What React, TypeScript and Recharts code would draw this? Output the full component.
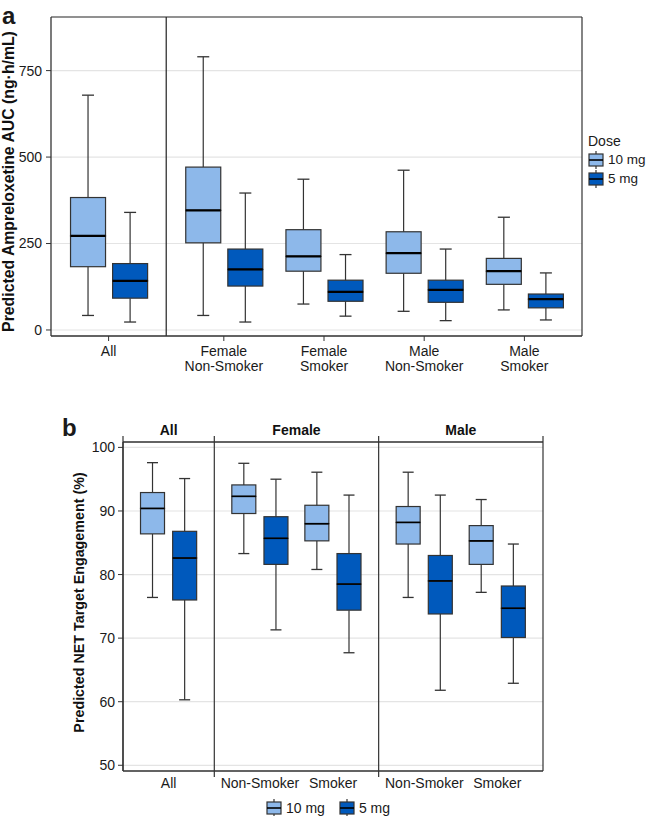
import React from 'react';
import {
  ComposedChart,
  Bar,
  XAxis,
  YAxis,
  CartesianGrid,
  ReferenceLine,
  Legend,
} from 'recharts';

const DOSES = ['10 mg', '5 mg'];
const DOSE_COLORS = ['#8db8ea', '#0059bc'];

// panel a: AUC, each entry is [min, q1, median, q3, max]
const A_CATEGORIES = ['All', 'Female\nNon-Smoker', 'Female\nSmoker', 'Male\nNon-Smoker', 'Male\nSmoker'];
const A_GROUPS = [0, 1, 1, 1, 1];
const A_TICKS = [0, 250, 500, 750];
const A_10MG = [
  [42, 183, 272, 383, 679],
  [42, 252, 346, 471, 790],
  [75, 170, 213, 290, 436],
  [54, 164, 222, 284, 462],
  [58, 132, 170, 207, 326],
];
const A_5MG = [
  [23, 92, 142, 192, 340],
  [23, 127, 175, 234, 396],
  [40, 83, 110, 144, 218],
  [27, 80, 116, 144, 234],
  [29, 64, 89, 104, 165],
];

// panel b: NET target engagement (%)
const B_CATEGORIES = ['All', 'Non-Smoker', 'Smoker', 'Non-Smoker', 'Smoker'];
const B_GROUPS = [0, 1, 1, 2, 2];
const B_GROUP_LABELS = ['All', 'Female', 'Male'];
const B_TICKS = [50, 60, 70, 80, 90, 100];
const B_10MG = [
  [76.4, 86.4, 90.4, 92.9, 97.6],
  [83.3, 89.6, 92.3, 94.1, 97.5],
  [80.8, 85.3, 88.0, 90.9, 96.1],
  [76.4, 84.8, 88.2, 90.7, 96.1],
  [77.2, 81.6, 85.3, 87.7, 91.8],
];
const B_5MG = [
  [60.3, 76.0, 82.6, 86.8, 95.1],
  [71.3, 81.6, 85.7, 89.1, 95.0],
  [67.7, 74.4, 78.5, 83.3, 92.5],
  [61.8, 73.8, 79.0, 83.0, 92.5],
  [62.9, 70.1, 74.7, 78.2, 84.8],
];

const INK = '#333';
const FONT = '"Liberation Sans", Arial, Helvetica, sans-serif';

// x layout: categories one unit apart, with an extra gap between facet groups
function layout(groups: number[], gap: number) {
  const pos = groups.map((g, i) => i + g * gap);
  const seps: number[] = [];
  for (let i = 1; i < pos.length; i++) {
    if (groups[i] !== groups[i - 1]) seps.push((pos[i - 1] + pos[i]) / 2);
  }
  const pad = 0.5 + gap / 2;
  const domain: [number, number] = [pos[0] - pad, pos[pos.length - 1] + pad];
  return { pos, seps, domain };
}

function buildRows(pos: number[], dodge: number, series: number[][][]) {
  const rows: any[] = [];
  series.forEach((stats, d) =>
    stats.forEach(([min, q1, med, q3, max], i) => {
      rows.push({
        x: pos[i] + (d === 0 ? -dodge : dodge),
        dose: d,
        base: min,
        lw: q1 - min,
        lb: med - q1,
        ub: q3 - med,
        uw: max - q3,
      });
    })
  );
  return rows;
}

const whisker = (top: boolean, cap: number) => (p: any) => {
  const cx = p.x + p.width / 2;
  const yCap = top ? p.y : p.y + p.height;
  return (
    <g>
      <line x1={cx} x2={cx} y1={p.y} y2={p.y + p.height} stroke={INK} strokeWidth={1.2} />
      <line x1={cx - cap / 2} x2={cx + cap / 2} y1={yCap} y2={yCap} stroke={INK} strokeWidth={1.3} />
    </g>
  );
};

const boxPart = (median: boolean, medW: number) => (p: any) => (
  <g>
    <rect
      x={p.x}
      y={p.y}
      width={p.width}
      height={p.height}
      fill={DOSE_COLORS[p.payload.dose]}
      stroke={INK}
      strokeWidth={1.2}
    />
    {median && (
      <line x1={p.x} x2={p.x + p.width} y1={p.y + p.height} y2={p.y + p.height} stroke="#000" strokeWidth={medW} />
    )}
  </g>
);

const catTick = (labels: string[]) => (p: any) => (
  <text x={p.x} y={p.y} textAnchor="middle" fontSize={14} fill="#1a1a1a">
    {labels[p.index].split('\n').map((l, k) => (
      <tspan key={k} x={p.x} dy={k === 0 ? '0.71em' : 15.5}>
        {l}
      </tspan>
    ))}
  </text>
);

// rotated y-axis title, shifted along the axis by `shift`
const yTitle = (text: string, size: number, offset: number, shift: number) => (p: any) => {
  const vb = p.viewBox;
  const cx = vb.x + offset;
  const cy = vb.y + vb.height / 2 + shift;
  return (
    <text
      transform={`translate(${cx}, ${cy}) rotate(-90)`}
      textAnchor="middle"
      dy="0.36em"
      fontSize={size}
      fontWeight={700}
      fill="#111"
    >
      {text}
    </text>
  );
};

const vline = (up: number, down: number) => (p: any) => {
  const top = Math.min(p.y1, p.y2);
  const bottom = Math.max(p.y1, p.y2);
  return <line x1={p.x1} x2={p.x2} y1={top - up} y2={bottom + down} stroke={INK} strokeWidth={1.2} />;
};

const Glyph = ({ color }: { color: string }) => (
  <svg width={16} height={18} style={{ display: 'block', flex: 'none' }}>
    <line x1={8} x2={8} y1={0} y2={18} stroke={INK} strokeWidth={1.2} />
    <rect x={1} y={3} width={14} height={12} fill={color} stroke={INK} strokeWidth={1.2} />
    <line x1={1} x2={15} y1={9} y2={9} stroke="#000" strokeWidth={1.6} />
  </svg>
);

const LegendRow = ({ i, size }: { i: number; size: number }) => (
  <div style={{ display: 'flex', alignItems: 'center', height: 19, whiteSpace: 'nowrap' }}>
    <Glyph color={DOSE_COLORS[i]} />
    <span style={{ marginLeft: 4, fontSize: size, color: '#1a1a1a' }}>{DOSES[i]}</span>
  </div>
);

const LegendA = () => (
  <div style={{ fontFamily: FONT, whiteSpace: 'nowrap' }}>
    <div style={{ fontSize: 14, lineHeight: '18px', color: '#1a1a1a' }}>Dose</div>
    {DOSES.map((_, i) => (
      <LegendRow key={i} i={i} size={13.5} />
    ))}
  </div>
);

const LegendB = () => (
  <div style={{ fontFamily: FONT, display: 'flex', gap: 14, whiteSpace: 'nowrap' }}>
    {DOSES.map((_, i) => (
      <LegendRow key={i} i={i} size={14} />
    ))}
  </div>
);

export default function App() {
  const la = layout(A_GROUPS, 0.15);
  const lb = layout(B_GROUPS, 0.25);
  const rowsA = buildRows(la.pos, 0.21, [A_10MG, A_5MG]);
  const rowsB = buildRows(lb.pos, 0.22, [B_10MG, B_5MG]);
  const groupCenters = B_GROUP_LABELS.map((_, g) => {
    const ps = lb.pos.filter((_, i) => B_GROUPS[i] === g);
    return (ps[0] + ps[ps.length - 1]) / 2;
  });
  const domA: [number, number] = [-17.4, 905];
  const domB: [number, number] = [49.1, 100.85];

  return (
    <div
      style={{
        position: 'absolute',
        left: 0,
        top: 0,
        width: 646,
        height: 816,
        background: '#fff',
        fontFamily: FONT,
        color: '#1a1a1a',
      }}
    >
      <div style={{ position: 'absolute', left: 2, top: 4, fontSize: 24, lineHeight: '24px', fontWeight: 700 }}>a</div>
      <div style={{ position: 'absolute', left: 62, top: 416, fontSize: 24, lineHeight: '24px', fontWeight: 700 }}>b</div>

      <div style={{ position: 'absolute', left: 0, top: 0 }}>
        <ComposedChart width={646} height={390} data={rowsA} margin={{ top: 17, right: 64, bottom: 14, left: 0 }}>
          <CartesianGrid vertical={false} stroke="#e4e4e4" strokeWidth={1.2} />
          <XAxis
            type="number"
            dataKey="x"
            domain={la.domain}
            allowDataOverflow
            ticks={la.pos}
            interval={0}
            height={40}
            tickSize={5}
            tickMargin={5}
            axisLine={{ stroke: INK, strokeWidth: 1.3 }}
            tickLine={{ stroke: INK }}
            tick={catTick(A_CATEGORIES)}
          />
          <YAxis
            type="number"
            domain={domA}
            allowDataOverflow
            ticks={A_TICKS}
            interval={0}
            width={51}
            tickSize={5}
            tickMargin={4}
            axisLine={{ stroke: INK, strokeWidth: 1.3 }}
            tickLine={{ stroke: INK }}
            tick={{ fontSize: 14, fill: '#1a1a1a' }}
            label={{ content: yTitle('Predicted Ampreloxetine AUC (ng·h/mL)', 15.8, 8, 5) }}
          />
          <ReferenceLine y={domA[1]} stroke={INK} strokeWidth={1.2} ifOverflow="visible" />
          <ReferenceLine x={la.domain[1]} stroke={INK} strokeWidth={1.2} ifOverflow="visible" />
          {la.seps.map((s) => (
            <ReferenceLine key={s} x={s} stroke="#222" strokeWidth={1.2} ifOverflow="visible" />
          ))}
          <Bar dataKey="base" stackId="box" barSize={35} fill="none" isAnimationActive={false} />
          <Bar dataKey="lw" stackId="box" barSize={35} shape={whisker(false, 12)} isAnimationActive={false} />
          <Bar dataKey="lb" stackId="box" barSize={35} shape={boxPart(false, 2)} isAnimationActive={false} />
          <Bar dataKey="ub" stackId="box" barSize={35} shape={boxPart(true, 2.2)} isAnimationActive={false} />
          <Bar dataKey="uw" stackId="box" barSize={35} shape={whisker(true, 12)} isAnimationActive={false} />
          <Legend
            layout="vertical"
            align="center"
            verticalAlign="middle"
            wrapperStyle={{ left: 588, top: 132, width: 58 }}
            content={() => <LegendA />}
          />
        </ComposedChart>
      </div>

      <div style={{ position: 'absolute', left: 0, top: 400 }}>
        <ComposedChart width={646} height={416} data={rowsB} margin={{ top: 42, right: 103, bottom: 20, left: 0 }}>
          <CartesianGrid vertical={false} stroke="#e4e4e4" strokeWidth={1.2} />
          <XAxis
            type="number"
            dataKey="x"
            domain={lb.domain}
            allowDataOverflow
            ticks={lb.pos}
            interval={0}
            height={25}
            tickSize={5}
            tickMargin={2}
            axisLine={{ stroke: INK, strokeWidth: 1.3 }}
            tickLine={false}
            tick={catTick(B_CATEGORIES)}
          />
          <YAxis
            type="number"
            domain={domB}
            allowDataOverflow
            ticks={B_TICKS}
            interval={0}
            width={123}
            tickSize={5}
            tickMargin={3}
            axisLine={{ stroke: INK, strokeWidth: 1.3 }}
            tickLine={{ stroke: INK }}
            tick={{ fontSize: 14, fill: '#1a1a1a' }}
            label={{ content: yTitle('Predicted NET Target Engagement (%)', 14.3, 78.5, -4) }}
          />
          <ReferenceLine y={domB[1]} stroke={INK} strokeWidth={1.3} ifOverflow="visible" />
          <ReferenceLine x={lb.domain[0]} ifOverflow="visible" shape={vline(6, 0)} />
          <ReferenceLine x={lb.domain[1]} ifOverflow="visible" shape={vline(6, 0)} />
          {lb.seps.map((s) => (
            <ReferenceLine key={s} x={s} ifOverflow="visible" shape={vline(6, 6)} />
          ))}
          {groupCenters.map((c, g) => (
            <ReferenceLine
              key={`strip-${g}`}
              x={c}
              stroke="none"
              ifOverflow="visible"
              label={{
                value: B_GROUP_LABELS[g],
                position: 'top',
                offset: 7,
                fontSize: 14,
                fontWeight: 700,
                fill: '#111',
              }}
            />
          ))}
          <Bar dataKey="base" stackId="box" barSize={24} fill="none" isAnimationActive={false} />
          <Bar dataKey="lw" stackId="box" barSize={24} shape={whisker(false, 11)} isAnimationActive={false} />
          <Bar dataKey="lb" stackId="box" barSize={24} shape={boxPart(false, 1.6)} isAnimationActive={false} />
          <Bar dataKey="ub" stackId="box" barSize={24} shape={boxPart(true, 1.6)} isAnimationActive={false} />
          <Bar dataKey="uw" stackId="box" barSize={24} shape={whisker(true, 11)} isAnimationActive={false} />
          <Legend
            layout="vertical"
            align="center"
            verticalAlign="middle"
            wrapperStyle={{ left: 266, top: 398, width: 140 }}
            content={() => <LegendB />}
          />
        </ComposedChart>
      </div>
    </div>
  );
}
